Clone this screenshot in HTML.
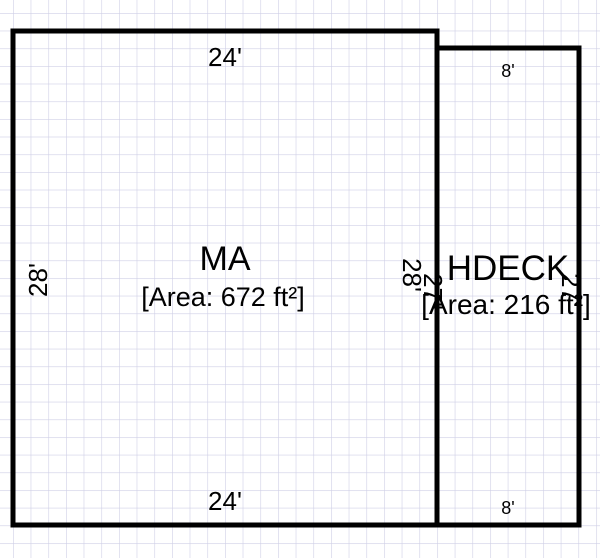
<!DOCTYPE html>
<html><head><meta charset="utf-8"><style>
html,body{margin:0;padding:0;background:#fff;width:600px;height:558px;overflow:hidden}
svg{display:block}
text{font-family:"Liberation Sans",Arial,sans-serif;fill:#000}
</style></head><body>
<svg width="600" height="558" viewBox="0 0 600 558" xmlns="http://www.w3.org/2000/svg">
<defs>
<pattern id="g" x="13" y="13" width="17.67" height="17.67" patternUnits="userSpaceOnUse">
<path d="M0 0H17.67M0 0V17.67" stroke="#cfcfe6" stroke-width="1.2" fill="none"/>
</pattern>
</defs>
<rect width="600" height="558" fill="#fff"/>
<rect width="600" height="558" fill="url(#g)"/>
<g fill="none" stroke="#000" stroke-width="5" stroke-linejoin="miter">
<rect x="13" y="31" width="424" height="494"/>
<polyline points="437,48 579,48 579,525 437,525"/>
</g>
<text x="225" y="66" font-size="26" text-anchor="middle">24'</text>
<text x="225" y="510" font-size="26" text-anchor="middle">24'</text>
<text transform="translate(47,280) rotate(-90)" font-size="26" text-anchor="middle">28'</text>
<text transform="translate(403,275) rotate(90)" font-size="26" text-anchor="middle">28'</text>
<text x="225" y="270" font-size="34" text-anchor="middle">MA</text>
<text x="223" y="306" font-size="27" text-anchor="middle">[Area: 672 ft²]</text>
<text x="508" y="77" font-size="18" text-anchor="middle">8'</text>
<text x="508" y="514" font-size="18" text-anchor="middle">8'</text>
<text x="508" y="280" font-size="35" text-anchor="middle">HDECK</text>
<text x="506" y="314" font-size="28" text-anchor="middle">[Area: 216 ft²]</text>
<text transform="translate(424,290) rotate(90)" font-size="26" text-anchor="middle">27'</text>
<text transform="translate(562,290) rotate(90)" font-size="26" text-anchor="middle">27'</text>
</svg>
</body></html>
